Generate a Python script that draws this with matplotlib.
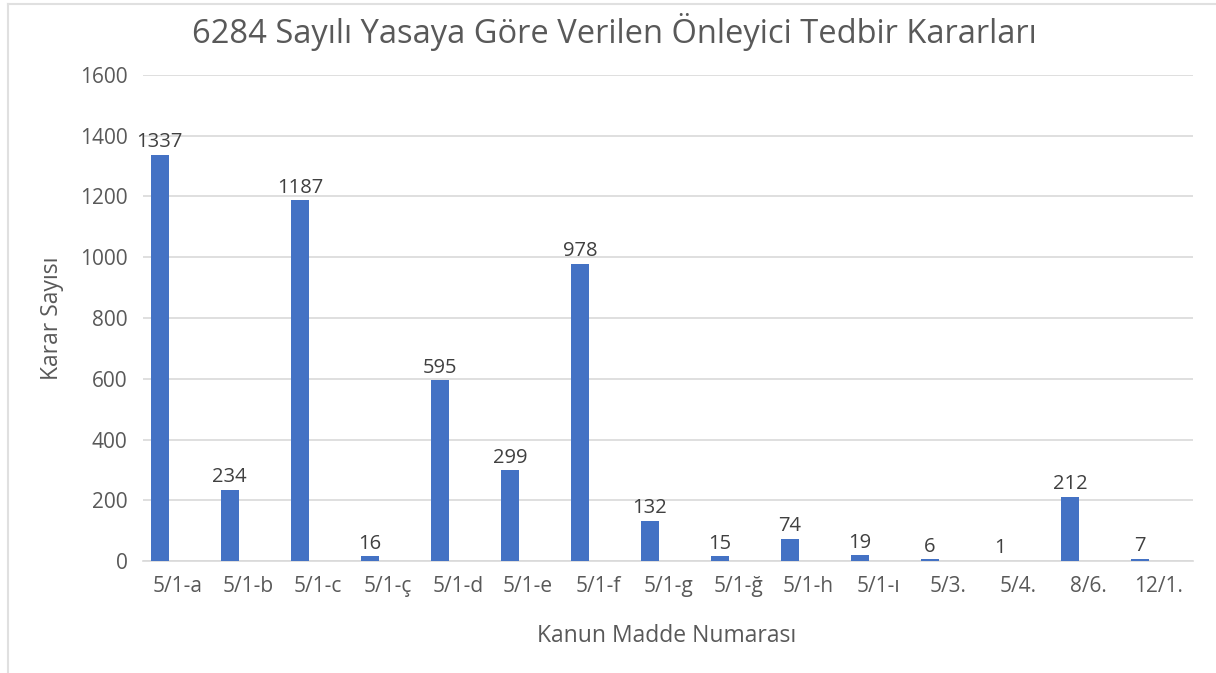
import matplotlib.pyplot as plt
from matplotlib.lines import Line2D
import numpy as np

plt.rcParams['font.family'] = ['Open Sans', 'DejaVu Sans']

# Veriler
maddeler = ['5/1-a', '5/1-b', '5/1-c', '5/1-ç', '5/1-d', '5/1-e', '5/1-f', '5/1-g',
            '5/1-ğ', '5/1-h', '5/1-ı', '5/3.', '5/4.', '8/6.', '12/1.']
karar_sayisi = [1337, 234, 1187, 16, 595, 299, 978, 132, 15, 74, 19, 6, 1, 212, 7]
ikinci_seri = [1, 0, 0, 0, 0, 0, 0, 0, 0, 0, 0, 0, 0, 0, 0]

mavi = '#4472C4'
gri_yazi = '#595959'
gri_cizgi = '#D9D9D9'

fig = plt.figure(figsize=(12.16, 6.73), dpi=100)
ax = fig.add_axes([0.1176, 0.1664, 0.8635, 0.7222])

x = np.arange(len(maddeler))
genislik = 0.26
ax.bar(x - genislik, karar_sayisi, width=genislik, color=mavi, zorder=3)
ax.bar(x, ikinci_seri, width=genislik, color='#F4C7A8', zorder=3)

for i, deger in enumerate(karar_sayisi):
    ax.text(x[i] - genislik, deger + 8, str(deger), ha='center', va='bottom',
            fontsize=14.5, color='#404040')

ax.set_xlim(-0.5, len(maddeler) - 0.5)
ax.set_ylim(0, 1600)
ax.set_yticks(range(0, 1601, 200))
ax.set_xticks(x)
ax.set_xticklabels(maddeler)
ax.tick_params(axis='both', length=0, labelsize=15, labelcolor=gri_yazi)
ax.tick_params(axis='x', pad=11)
ax.tick_params(axis='y', pad=11)
ax.grid(axis='y', color=gri_cizgi, linewidth=1.2, zorder=0)
for s in ['top', 'right', 'left']:
    ax.spines[s].set_visible(False)
ax.spines['bottom'].set_color(gri_cizgi)
ax.spines['bottom'].set_linewidth(1.2)

ax.set_xlabel('Kanun Madde Numarası', fontsize=16.5, color=gri_yazi, va='center')
ax.xaxis.set_label_coords(0.499, -0.154)
ax.set_ylabel('Karar Sayısı', fontsize=16.5, color=gri_yazi, va='center')
ax.yaxis.set_label_coords(-0.087, 0.5)
fig.text(0.505, 0.953, '6284 Sayılı Yasaya Göre Verilen Önleyici Tedbir Kararları',
         ha='center', va='center', fontsize=23.5, color=gri_yazi)

# Çerçeve
fig.add_artist(Line2D([8 / 1216, 8 / 1216], [0, 1 - 4 / 673], color='#E0E0E0', lw=1.5))
fig.add_artist(Line2D([8 / 1216, 1], [1 - 4 / 673, 1 - 4 / 673], color='#E0E0E0', lw=1.5))

fig.savefig('out.png', dpi=100)
